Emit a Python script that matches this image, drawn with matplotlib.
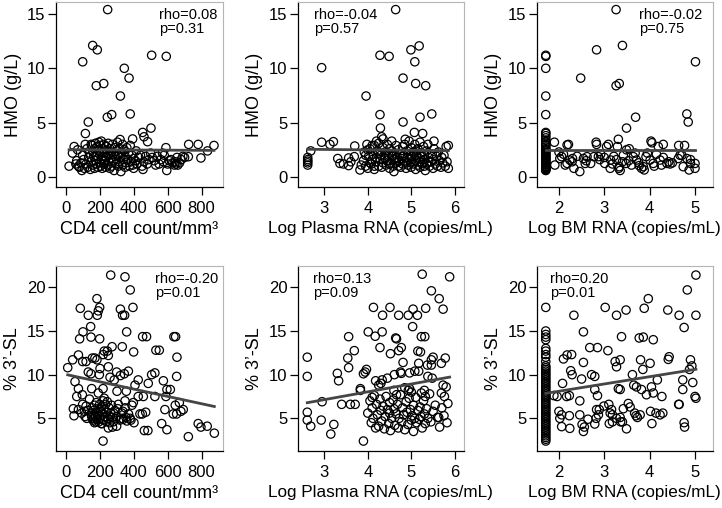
import matplotlib
matplotlib.use("Agg")
import matplotlib.pyplot as plt
import numpy as np

plt.rcParams['font.family'] = ['Liberation Sans', 'DejaVu Sans']

# ---- data ----
# HMO (g/L) vs CD4 cell count
cd4_hmo_x = [247, 159, 186, 100, 506, 592, 345, 373, 180, 224, 322, 380, 271, 245, 133, 502, 453, 461, 116, 482,
             394, 320, 724, 780, 873, 835, 796, 722,
             20, 40, 50, 60, 65, 70, 75, 80, 90, 95, 100, 105, 110, 115, 120, 125, 130, 135, 140, 145,
             150, 150, 155, 160, 160, 165, 170, 170, 175, 175, 180, 180, 185, 190, 190, 195, 195, 200, 200, 205,
             205, 210, 210, 215, 215, 220, 220, 225, 225, 230, 230, 235, 240, 240, 245, 245, 250, 250, 255, 260,
             260, 265, 270, 270, 275, 280, 280, 285, 290, 290, 295, 300, 300, 305, 310, 310, 315, 320, 325, 325,
             330, 335, 335, 340, 345, 350, 350, 355, 360, 365, 370, 375, 380, 385, 390, 395, 400, 400, 410, 415,
             420, 430, 440, 450, 455, 460, 470, 480, 490, 500, 510, 520, 530, 540, 550, 560, 570, 575, 580, 590,
             595, 600, 610, 620, 630, 640, 645, 650, 655, 660, 670, 680, 690, 700]
cd4_hmo_y = [15.4, 12.1, 11.7, 10.6, 11.2, 11.1, 10.0, 9.1, 8.4, 8.6, 7.45, 5.8, 5.74, 5.5, 5.06, 4.5, 4.1, 3.7, 4.0, 3.25,
             3.5, 3.45, 3.0, 3.0, 2.9, 2.4, 1.75, 1.87,
             1.0, 2.2, 2.8, 1.2, 1.5, 2.5, 1.0, 0.9, 1.3, 0.6, 2.0, 1.6, 0.8, 3.0, 1.2, 2.6, 0.9, 1.8, 2.2, 0.7,
             1.4, 3.0, 2.9, 1.1, 2.3, 1.9, 0.8, 2.6, 1.5, 3.1, 1.2, 2.0, 2.8, 0.9, 1.7, 2.4, 3.2, 1.3, 2.1, 1.0,
             2.9, 1.6, 3.3, 2.2, 0.8, 1.9, 2.6, 1.2, 3.0, 1.5, 2.4, 0.9, 1.8, 2.8, 1.1, 2.2, 2.0, 3.1, 1.4, 0.8,
             2.6, 1.7, 2.3, 1.0, 3.0, 1.5, 2.1, 0.6, 1.9, 2.7, 1.2, 2.4, 1.6, 3.2, 1.0, 2.0, 1.4, 2.6, 0.5, 1.8,
             2.2, 1.1, 3.0, 1.6, 2.5, 0.9, 1.9, 1.3, 2.7, 1.6, 2.2, 1.0, 2.9, 1.4, 2.0, 1.1, 0.8, 1.7, 1.5, 2.4,
             1.2, 1.8, 2.0, 1.0, 0.7, 1.4, 1.9, 1.2, 1.6, 2.2, 1.8, 1.5, 1.1, 1.9, 1.2, 1.6, 2.2, 1.4, 2.0, 2.7,
             0.6, 1.2, 1.5, 1.6, 1.3, 1.1, 1.4, 1.2, 1.8, 1.1, 1.3, 1.6, 1.9, 1.8]

# HMO vs log plasma RNA
pl_hmo_x = [4.64, 2.94, 4.28, 4.49, 4.99, 5.18, 5.08, 4.81, 5.10, 5.33, 3.96, 4.28, 5.2, 5.47, 4.81, 4.29, 5.07, 5.26, 4.32, 2.94,
            3.21, 3.13, 4.86, 5.52, 2.62, 2.62, 2.62, 2.62, 2.62, 2.69, 3.31, 3.36, 3.44, 3.56, 3.56, 3.7, 3.69, 3.61, 3.82,
            3.9, 3.92, 3.95, 3.98, 4.0, 4.02, 4.05, 4.08, 4.1, 4.12, 4.15, 4.15, 4.18, 4.2, 4.22, 4.25, 4.25, 4.28, 4.3, 4.32,
            4.35, 4.35, 4.38, 4.4, 4.42, 4.45, 4.45, 4.48, 4.5, 4.5, 4.52, 4.55, 4.55, 4.58, 4.6, 4.6, 4.62, 4.65, 4.65, 4.68,
            4.7, 4.7, 4.72, 4.75, 4.75, 4.78, 4.8, 4.8, 4.82, 4.85, 4.85, 4.88, 4.9, 4.9, 4.92, 4.95, 4.95, 4.98, 5.0, 5.0,
            5.0, 5.02, 5.05, 5.05, 5.08, 5.1, 5.1, 5.12, 5.15, 5.15, 5.18, 5.2, 5.2, 5.22, 5.25, 5.25, 5.28, 5.3, 5.3, 5.32,
            5.35, 5.35, 5.38, 5.4, 5.42, 5.45, 5.48, 5.5, 5.5, 5.52, 5.55, 5.58, 5.6, 5.62, 5.65, 5.68, 5.7, 5.72, 5.75, 5.78,
            5.8, 5.82, 5.85, 5.85, 4.05, 4.15, 4.25, 4.4, 4.5, 4.6, 4.7, 4.8, 4.9, 5.0, 5.1, 5.2, 5.3, 5.4, 3.85, 3.95,
            4.1, 4.2, 4.35, 4.55, 4.0]
pl_hmo_y = [15.4, 10.06, 11.2, 11.1, 11.7, 12.06, 10.6, 9.1, 8.6, 8.4, 7.45, 5.74, 5.5, 5.8, 5.06, 4.5, 4.1, 4.0, 3.7, 3.2,
            3.25, 3.0, 3.47, 3.3, 1.1, 1.3, 1.45, 1.6, 1.8, 2.4, 1.7, 1.25, 1.2, 1.05, 1.75, 2.85, 1.87, 1.4, 0.65,
            1.5, 2.3, 1.0, 3.0, 0.8, 1.9, 2.6, 1.2, 1.6, 2.1, 0.7, 2.9, 1.4, 1.8, 2.4, 1.0, 3.1, 1.6, 2.0, 0.9,
            2.7, 1.3, 1.8, 2.3, 1.1, 3.0, 1.5, 2.0, 0.8, 2.6, 1.3, 1.9, 2.4, 1.0, 1.6, 0.5, 2.2, 2.9, 1.3, 1.8,
            1.0, 2.5, 1.5, 2.1, 0.9, 1.7, 2.8, 1.2, 2.0, 1.4, 3.0, 0.8, 1.8, 2.4, 1.1, 1.6, 3.3, 2.0, 0.9, 1.4,
            2.7, 1.9, 1.2, 2.3, 3.0, 1.5, 0.7, 2.0, 1.1, 2.6, 1.7, 3.2, 0.9, 2.2, 1.3, 1.9, 2.8, 1.0, 1.6, 0.6,
            2.4, 1.2, 3.0, 1.8, 1.0, 1.4, 2.1, 0.8, 1.6, 2.6, 1.2, 1.9, 1.0, 2.3, 1.5, 0.9, 1.8, 1.3, 2.0, 1.0,
            2.8, 1.4, 2.9, 0.8, 1.3, 1.0, 2.2, 1.7, 1.2, 2.0, 1.4, 1.9, 1.3, 1.7, 2.4, 1.4, 2.0, 1.4, 1.1, 2.0,
            2.9, 3.3, 3.5, 3.3, 2.5]

# HMO vs log BM RNA (detection limit column + rest)
bm_floor = 1.71
bm_hmo_floor_y = [11.2, 11.1, 10.0, 7.45, 5.74, 4.1, 4.0, 3.8, 3.6, 3.4, 3.2, 3.0, 2.9, 2.75, 2.6, 2.5, 2.4, 2.3, 2.2, 2.1,
                  2.0, 1.9, 1.8, 1.75, 1.65, 1.55, 1.5, 1.4, 1.3, 1.25, 1.15, 1.1, 1.0, 0.95, 0.9, 0.85, 0.8, 0.75, 0.7,
                  0.65, 0.6]
bm_hmo_x = [3.26, 3.40, 2.83, 2.48, 3.26, 3.33, 3.69, 3.49, 5.01, 4.82, 4.85, 3.31, 2.82, 2.83, 2.21, 1.9, 4.03, 4.05, 4.3, 4.64,
            4.77, 4.71, 4.82, 4.74, 4.9, 5.0, 5.0, 4.87,
            2.02, 2.06, 2.1, 2.18, 1.91, 2.14, 2.18, 2.24, 2.29, 2.33, 2.46, 2.54, 2.62, 2.58, 2.70, 2.77, 2.87, 2.92, 3.01, 3.05,
            3.09, 3.14, 3.18, 3.21, 3.13, 3.32, 3.35, 3.33, 3.27, 3.29, 3.42, 3.48, 3.54, 3.49, 3.55, 3.64, 3.68, 3.71, 3.76, 3.77,
            3.82, 3.86, 3.88, 3.92, 3.95, 4.01, 4.08, 4.15, 4.19, 4.23, 4.26, 4.38, 4.42, 4.45, 4.63, 4.67,
            2.0, 2.3, 2.6, 2.9, 3.4, 3.6, 4.1, 4.3, 4.5, 4.9, 2.4, 3.0]
bm_hmo_y = [15.4, 12.1, 11.7, 9.1, 8.4, 8.6, 5.5, 4.5, 10.6, 5.8, 5.06, 3.47, 3.2, 3.0, 3.0, 3.2, 3.3, 3.15, 3.0, 2.9,
            2.9, 2.0, 1.7, 0.95, 1.25, 0.8, 1.25, 0.65,
            1.7, 1.87, 2.1, 2.95, 1.1, 1.1, 1.25, 1.56, 1.4, 0.8, 0.5, 1.7, 1.87, 1.25, 1.25, 1.87, 1.87, 2.1, 1.25, 2.8,
            3.0, 1.56, 1.2, 1.9, 0.8, 0.8, 0.6, 0.95, 1.6, 2.8, 2.0, 1.25, 1.5, 2.5, 2.6, 1.87, 2.2, 1.56, 1.3, 1.05,
            0.8, 0.95, 0.65, 1.87, 2.2, 1.56, 1.25, 2.1, 2.8, 1.56, 1.1, 1.25, 1.4, 1.2, 1.7, 2.0,
            2.3, 1.7, 1.5, 1.6, 1.4, 1.1, 1.0, 1.8, 1.3, 1.6, 1.9, 1.8]

# % 3'-SL vs CD4
cd4_sl_x = [265, 349, 380, 184, 396, 86, 200, 192, 133, 186, 322, 335, 347, 147, 102, 359, 82, 149, 200, 453,
            476, 637, 647, 273, 333, 227, 245, 531, 551, 400, 655, 75, 41, 12, 100, 120, 157, 172, 184, 221,
            251, 133, 149, 202, 198, 251, 300, 322, 369, 345, 261, 286, 506, 525, 575, 427, 486, 596, 616, 653,
            55, 75, 98, 65, 153, 192, 220, 227, 302, 357, 408, 349, 398, 427, 457, 525, 590, 645, 669, 692,
            678, 584, 596, 565, 471, 437, 451, 484, 463, 402, 384, 306, 337, 282, 329, 261, 251, 276, 300, 212,
            222, 220, 178, 163, 153, 124, 114, 94, 49, 75, 45, 722, 780, 796, 833, 875, 653, 633,
            150, 155, 160, 165, 170, 170, 175, 180, 180, 185, 190, 190, 195, 200, 200, 205, 210, 210, 215, 220,
            220, 225, 230, 235, 240, 240, 245, 250, 255, 260, 265, 270, 275, 280, 290, 300, 310, 320, 330, 340,
            350, 355, 360, 370, 380, 390, 120, 130, 140, 100, 110]
cd4_sl_y = [21.4, 21.2, 19.7, 18.7, 17.7, 17.6, 17.7, 17.3, 16.8, 16.8, 17.5, 16.8, 16.8, 15.5, 14.9, 14.9, 14.1, 14.3, 14.1, 14.35,
            14.35, 14.35, 14.35, 13.2, 13.2, 12.7, 12.7, 12.8, 12.8, 12.6, 12.0, 12.25, 11.7, 10.8, 11.5, 11.5, 11.9, 11.9, 11.7, 12.3,
            12.2, 10.3, 10.1, 10.7, 10.0, 10.9, 10.3, 9.9, 10.4, 10.1, 9.7, 9.4, 10.0, 10.2, 9.3, 9.4, 9.0, 8.3, 8.3, 9.8,
            9.2, 8.4, 7.7, 7.5, 8.4, 7.9, 8.4, 7.3, 8.1, 8.1, 8.8, 7.0, 6.8, 7.5, 7.5, 7.5, 7.5, 6.5, 6.8, 6.0,
            5.8, 6.0, 3.7, 4.4, 5.7, 5.5, 5.5, 3.6, 3.6, 4.5, 4.8, 6.1, 5.8, 5.6, 5.0, 5.2, 3.9, 4.0, 4.1, 4.4,
            4.8, 2.4, 4.6, 5.0, 5.2, 5.0, 5.2, 5.6, 5.3, 6.0, 6.1, 2.9, 4.4, 4.0, 4.1, 3.3, 5.5, 5.5,
            5.5, 6.2, 4.8, 5.9, 6.5, 4.5, 5.2, 6.8, 5.7, 4.9, 6.1, 5.3, 4.6, 6.6, 5.0, 5.8, 4.4, 6.3, 5.5, 7.0,
            4.9, 6.0, 5.2, 6.6, 4.6, 5.7, 6.9, 5.0, 6.2, 4.5, 5.6, 6.5, 5.1, 4.6, 5.9, 5.2, 6.6, 4.8, 5.6, 4.9,
            6.2, 5.1, 4.7, 5.5, 5.0, 6.5, 6.4, 5.9, 7.2, 6.6, 5.8]

# % 3'-SL vs log plasma RNA
pl_sl_x = [5.25, 5.88, 5.46, 5.64, 5.73, 4.13, 4.51, 4.34, 4.71, 4.93, 5.04, 5.14, 5.33, 5.03, 3.56, 4.01, 4.17, 4.33, 4.64, 4.66,
           5.23, 5.31, 3.69, 3.54, 3.56, 3.33, 3.30, 2.95, 2.61, 2.61, 2.61, 2.61, 2.69, 2.93, 3.22, 3.15, 3.90, 3.40, 3.60, 3.71,
           3.83, 3.83, 3.94, 3.97, 3.90, 4.18, 4.33, 4.30, 4.28, 4.52, 4.71, 4.77, 4.81, 4.61, 4.77, 5.15, 5.21, 5.17, 5.37, 5.46,
           4.96, 5.08, 5.17, 5.46, 5.50, 5.69, 5.78, 5.38, 5.48, 5.69, 5.73, 5.76, 5.84, 5.82, 5.63, 5.23, 5.32, 4.85, 4.96, 4.93,
           4.66,
           4.0, 4.05, 4.08, 4.1, 4.12, 4.15, 4.18, 4.2, 4.22, 4.25, 4.28, 4.3, 4.32, 4.35, 4.38, 4.4, 4.42, 4.45, 4.48, 4.5,
           4.5, 4.52, 4.55, 4.58, 4.6, 4.62, 4.65, 4.68, 4.7, 4.72, 4.75, 4.78, 4.8, 4.82, 4.85, 4.88, 4.9, 4.92, 4.95, 4.98,
           5.0, 5.02, 5.05, 5.05, 5.08, 5.1, 5.12, 5.15, 5.18, 5.2, 5.22, 5.25, 5.28, 5.3, 5.32, 5.35, 5.38, 5.42, 5.45, 5.5,
           5.55, 5.6, 5.65, 5.7, 5.75, 5.8, 5.3, 5.0, 4.6, 4.25, 4.1, 4.45, 4.75]
pl_sl_y = [21.5, 21.2, 19.6, 18.7, 17.5, 17.7, 17.7, 16.8, 16.8, 16.8, 17.5, 16.8, 17.6, 15.5, 14.35, 14.9, 14.4, 14.9, 14.2, 14.1,
           14.35, 14.35, 12.75, 11.9, 10.8, 9.3, 10.15, 6.9, 12.0, 9.8, 5.7, 4.8, 4.1, 4.8, 4.3, 3.2, 2.4, 6.6, 6.6, 6.6,
           8.4, 8.2, 10.3, 10.6, 10.1, 9.3, 9.4, 9.0, 13.1, 12.4, 12.75, 13.1, 11.4, 10.0, 10.15, 12.7, 12.6, 11.3, 11.1, 11.1,
           10.2, 10.4, 10.4, 11.7, 12.0, 11.3, 11.9, 9.8, 9.6, 7.9, 8.8, 7.5, 6.7, 4.5, 5.1, 7.9, 7.5, 8.5, 8.4, 8.2,
           7.7,
           5.6, 7.0, 4.5, 6.2, 5.0, 7.6, 3.9, 6.6, 5.4, 4.1, 7.2, 5.9, 4.7, 6.4, 3.8, 5.2, 7.5, 6.0, 4.4, 5.6,
           6.8, 3.6, 5.0, 7.1, 6.1, 4.2, 5.5, 6.6, 3.9, 5.0, 7.7, 4.6, 6.2, 5.4, 3.7, 6.9, 5.7, 4.3, 7.3, 6.0,
           4.8, 5.3, 6.5, 3.5, 5.0, 7.4, 4.5, 5.9, 4.9, 6.3, 5.2, 3.9, 7.0, 5.5, 4.4, 6.1, 5.0, 7.8, 4.6, 5.8,
           6.5, 5.1, 4.0, 6.2, 5.3, 8.6, 8.2, 8.0, 8.2, 8.8, 7.4, 9.6, 10.3]

# % 3'-SL vs log BM RNA
bm_sl_floor_y = [17.7, 15.0, 14.6, 14.3, 14.0, 13.0, 12.7, 12.3, 12.0, 11.5, 11.0, 10.8, 10.6, 10.4, 10.2, 10.0, 9.8, 9.6,
                 9.4, 9.2, 9.0, 8.8, 8.6, 8.4, 8.2, 8.0, 7.8, 7.6, 7.4, 7.2, 7.0, 6.8, 6.6, 6.4, 6.2, 6.0, 5.8, 5.6,
                 5.4, 5.2, 5.0, 4.8, 4.6, 4.4, 4.2, 4.0, 3.8, 3.6, 3.4, 3.2, 3.0, 2.8, 2.6, 2.4]
bm_sl_x = [5.02, 4.83, 3.97, 3.88, 3.48, 3.02, 3.27, 2.33, 4.40, 4.65, 5.02, 4.76, 2.54, 3.38, 3.77, 3.86, 4.08, 2.68, 2.85, 3.08,
           2.10, 2.18, 2.28, 2.54, 3.24, 3.35, 3.27, 3.8, 3.85, 4.01, 4.41, 4.43, 4.90, 4.88, 4.93, 2.26, 2.29, 2.5, 2.72, 2.79,
           2.08, 1.89, 1.96, 2.17, 2.23, 2.46, 2.79, 2.85, 3.31, 3.35, 3.62, 3.65, 3.71, 3.82, 4.04, 3.93, 4.08, 4.27, 4.17, 4.73,
           4.73, 4.65, 4.95, 5.02, 5.0, 2.0, 2.06, 2.23, 2.02, 2.06, 2.24, 2.46, 2.51, 2.56, 2.54, 2.64, 2.82, 2.87, 2.83, 2.79,
           2.89, 2.99, 3.10, 3.16, 3.13, 3.18, 3.11, 3.18, 3.27, 3.35, 3.36, 3.40, 3.42, 3.53, 3.57, 3.49, 3.67, 3.7, 3.73, 3.79,
           4.02, 4.05, 4.14, 4.23, 4.29, 4.64, 4.76, 4.77]
bm_sl_y = [21.4, 19.7, 18.7, 17.6, 17.4, 17.7, 16.8, 16.8, 17.4, 16.8, 16.8, 15.4, 14.9, 14.35, 14.2, 14.3, 14.0, 13.1, 13.1, 12.75,
           11.8, 12.25, 12.3, 11.4, 11.5, 11.7, 10.9, 11.7, 10.6, 11.3, 11.75, 12.05, 11.7, 10.6, 11.0, 10.45, 10.0, 9.5, 10.0, 9.8,
           9.0, 7.6, 7.5, 7.5, 7.6, 7.0, 8.3, 7.6, 8.4, 8.3, 10.0, 8.8, 8.6, 8.3, 8.6, 7.7, 7.9, 7.5, 9.4, 9.4,
           8.3, 6.6, 9.1, 7.3, 7.5, 5.8, 5.4, 5.3, 5.0, 4.05, 3.85, 5.4, 4.3, 4.0, 3.5, 4.9, 5.0, 5.4, 6.0, 4.35,
           6.0, 6.4, 6.6, 6.0, 5.6, 5.4, 4.4, 4.6, 5.0, 5.1, 4.6, 4.6, 6.1, 6.7, 6.3, 3.8, 5.6, 5.3, 5.1, 5.4,
           5.8, 4.4, 5.6, 5.4, 5.6, 6.6, 4.5, 4.0]

# fitted lines (intercept, slope) and stats
fits = [(2.51, -0.00007), (2.655, -0.04), (2.5, 0.0), (10.03, -0.0042), (4.45, 0.896), (6.435, 0.833)]
stats = [("rho=0.08", "p=0.31"), ("rho=-0.04", "p=0.57"), ("rho=-0.02", "p=0.75"),
         ("rho=-0.20", "p=0.01"), ("rho=0.13", "p=0.09"), ("rho=0.20", "p=0.01")]

xlabels = ["CD4 cell count/mm\u00b3", "Log Plasma RNA (copies/mL)", "Log BM RNA\u2009(copies/mL)"]
ylabels = ["HMO (g/L)", "% 3\u2019-SL"]

panels = [
    (cd4_hmo_x, cd4_hmo_y),
    (pl_hmo_x, pl_hmo_y),
    ([bm_floor] * len(bm_hmo_floor_y) + bm_hmo_x, bm_hmo_floor_y + bm_hmo_y),
    (cd4_sl_x, cd4_sl_y),
    (pl_sl_x, pl_sl_y),
    ([bm_floor] * len(bm_sl_floor_y) + bm_sl_x, bm_sl_floor_y + bm_sl_y),
]

W, H = 722, 508
fig = plt.figure(figsize=(W / 100, H / 100), dpi=100)

col_left = [56, 297.7, 536.7]
col_width = [167, 166.3, 176]
row_top = [2, 266]
row_h = 185
xlims = [(-57, 926), (2.39, 6.21), (1.51, 5.39)]
xticks = [[0, 200, 400, 600, 800], [3, 4, 5, 6], [2, 3, 4, 5]]
ylims = [(-0.92, 16.1), (1.26, 22.44)]
yticks = [[0, 5, 10, 15], [5, 10, 15, 20]]
# rho text left edge (px) per column and row
txt_left = [[159, 314, 639], [155, 313, 550]]
xlab_size = [13, 12.3, 12.3]

for i, (px, py) in enumerate(panels):
    r, c = divmod(i, 3)
    ax = fig.add_axes([col_left[c] / W, 1 - (row_top[r] + row_h) / H, col_width[c] / W, row_h / H])
    ax.scatter(px, py, s=36, facecolors='none', edgecolors='black', linewidths=0.9, zorder=2)
    b0, b1 = fits[i]
    lx = np.array([min(px), max(px)])
    ax.plot(lx, b0 + b1 * lx, color='#454545', lw=2.0, zorder=3)
    ax.set_xlim(*xlims[c])
    ax.set_ylim(*ylims[r])
    ax.set_xticks(xticks[c])
    ax.set_yticks(yticks[r])
    ax.tick_params(axis='both', direction='out', length=5.5, width=0.9, labelsize=12, colors='black')
    ax.tick_params(axis='x', pad=4.5)
    ax.tick_params(axis='y', pad=2)
    for s in ['top', 'right']:
        ax.spines[s].set_color('#b5b5b5')
        ax.spines[s].set_linewidth(0.8)
    for s in ['left', 'bottom']:
        ax.spines[s].set_color('black')
        ax.spines[s].set_linewidth(0.9)
    ax.set_xlabel(xlabels[c], fontsize=xlab_size[c], labelpad=4)
    ax.set_ylabel(ylabels[r], fontsize=13, labelpad=4)
    t1, t2 = stats[i]
    tx = txt_left[r][c]
    ty = row_top[r] + 13
    fig.text(tx / W, 1 - ty / H, t1, fontsize=10.5, va='center', ha='left')
    fig.text(tx / W, 1 - (ty + 14) / H, t2, fontsize=10.5, va='center', ha='left')

fig.savefig("out.png", dpi=100)
